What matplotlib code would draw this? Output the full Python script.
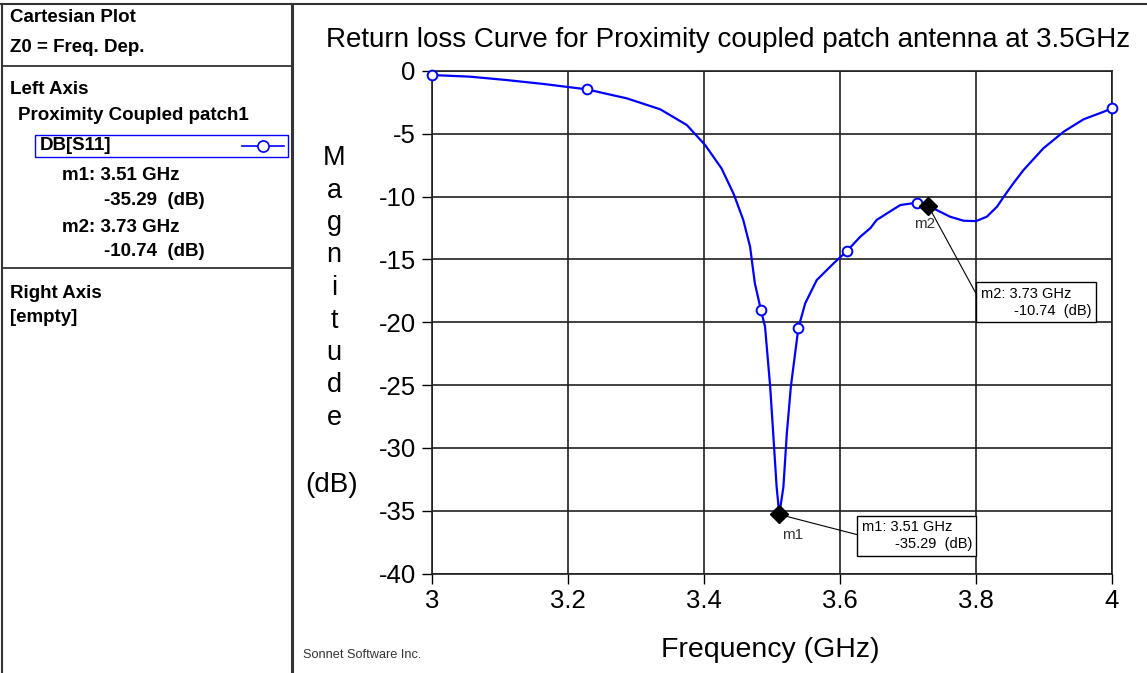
import matplotlib
matplotlib.use('Agg')
import matplotlib.pyplot as plt
from matplotlib.lines import Line2D
from matplotlib.patches import Rectangle
import numpy as np

plt.rcParams['font.family'] = ['Liberation Sans', 'DejaVu Sans']
plt.rcParams['axes.unicode_minus'] = False

# ---- data ----
freq = [3.000, 3.056, 3.110, 3.164, 3.228, 3.287, 3.336, 3.375, 3.402, 3.426,
        3.444, 3.458, 3.468, 3.475, 3.484, 3.490, 3.4975, 3.502, 3.507, 3.511,
        3.517, 3.522, 3.528, 3.539, 3.549, 3.566, 3.591, 3.610, 3.630, 3.645,
        3.654, 3.679, 3.689, 3.713, 3.730, 3.762, 3.782, 3.800, 3.816, 3.831,
        3.841, 3.855, 3.870, 3.899, 3.929, 3.958, 3.988, 4.000]
s11_db = [-0.32, -0.45, -0.72, -1.03, -1.46, -2.18, -3.05, -4.30, -5.90, -7.75,
          -9.80, -11.86, -13.99, -16.9, -19.03, -20.36, -25.1, -28.85, -33.1, -35.29,
          -33.1, -28.85, -25.1, -20.45, -18.5, -16.64, -15.3, -14.35, -13.19, -12.5,
          -11.86, -11.0, -10.67, -10.48, -10.74, -11.6, -11.92, -11.95, -11.6, -10.8,
          -10.0, -8.94, -7.88, -6.16, -4.83, -3.85, -3.24, -2.97]

# open circle symbols on the trace
sym_freq = [3.000, 3.228, 3.484, 3.539, 3.610, 3.713, 4.000]
sym_db = [-0.32, -1.46, -19.03, -20.45, -14.35, -10.48, -2.97]

# markers
mk_names = ['m1', 'm2']
mk_freq = [3.51, 3.73]
mk_db = [-35.29, -10.74]

xticks = [3, 3.2, 3.4, 3.6, 3.8, 4]
xticklabels = ['3', '3.2', '3.4', '3.6', '3.8', '4']
yticks = np.arange(-40, 1, 5)

W, H = 1147, 673
fig = plt.figure(figsize=(W / 100, H / 100), dpi=100)


def fx(x):
    return x / W


def fy(y):
    return 1 - y / H


ax = fig.add_axes([fx(431.7), fy(573.5), 680.3 / W, 502.5 / H])
ax.plot(freq, s11_db, color='#0000ff', lw=1.6, zorder=3)
ax.plot(sym_freq, sym_db, ls='none', marker='o', ms=7, mfc='white', mec='#0000ff',
        mew=1.4, zorder=4, clip_on=False)
ax.set_xlim(3, 4)
ax.set_ylim(-40, 0)
ax.set_xticks(xticks)
ax.set_xticklabels(xticklabels)
ax.set_yticks(yticks)
ax.grid(True, color='#202020', lw=1.2)
ax.set_axisbelow(True)
for sp in ax.spines.values():
    sp.set_color('#202020')
    sp.set_linewidth(1.2)
ax.tick_params(direction='out', length=7, width=1, labelsize=18.5, pad=4.5)

# marker annotations
box_pos = {'m1': (3.632, -37.0), 'm2': (3.807, -18.4)}
lab_pos = {'m1': (3.531, -36.9), 'm2': (3.725, -12.2)}
for name, f, d in zip(mk_names, mk_freq, mk_db):
    ax.plot(f, d, marker='D', color='k', ms=9, zorder=5)
    ax.text(*lab_pos[name], name, ha='center', va='center', fontsize=11, color='#333333')
    ax.annotate('%s: %.2f GHz\n        %.2f  (dB)' % (name, f, d), xy=(f, d),
                xytext=box_pos[name], ha='left', va='center', fontsize=10.5,
                linespacing=1.3,
                bbox=dict(boxstyle='square,pad=0.3', fc='white', ec='k', lw=1),
                arrowprops=dict(arrowstyle='-', color='k', lw=0.8, relpos=(0, 0.5),
                                shrinkA=0, shrinkB=0), zorder=6)

# title and axis labels
fig.text(fx(728), fy(40), 'Return loss Curve for Proximity coupled patch antenna at 3.5GHz',
         ha='center', va='center', fontsize=20)
fig.text(fx(770), fy(650), 'Frequency (GHz)', ha='center', va='center', fontsize=20.5)
for i, ch in enumerate('Magnitude'):
    fig.text(fx(334), fy(158 + i * 32.5), ch, ha='center', va='center', fontsize=19.5)
fig.text(fx(332), fy(485), '(dB)', ha='center', va='center', fontsize=20)
fig.text(fx(303), fy(655), 'Sonnet Software Inc.', ha='left', va='center', fontsize=9.2,
         color='#333333')

# left info panel frame
frame_kw = dict(color='#333333', transform=fig.transFigure)
fig.add_artist(Line2D([0, 1], [fy(4), fy(4)], lw=1.5, **frame_kw))
fig.add_artist(Line2D([fx(2), fx(2)], [fy(4), 0], lw=1.5, **frame_kw))
fig.add_artist(Line2D([fx(292), fx(292)], [fy(4), 0], lw=2.2, **frame_kw))
for yy in [66, 268]:
    fig.add_artist(Line2D([fx(2), fx(292)], [fy(yy), fy(yy)], lw=1.3, **frame_kw))

panel_lines = [
    (10, 17, 'Cartesian Plot'),
    (10, 47, 'Z0 = Freq. Dep.'),
    (10, 90, 'Left Axis'),
    (18, 116, 'Proximity Coupled patch1'),
    (40, 146, 'DB[S11]'),
    (62, 175, 'm1: 3.51 GHz'),
    (104, 200, '-35.29  (dB)'),
    (62, 227, 'm2: 3.73 GHz'),
    (104, 252, '-10.74  (dB)'),
    (10, 293, 'Right Axis'),
    (10, 318, '[empty]'),
]
for x, y, s in panel_lines:
    fig.text(fx(x), fy(y), s, ha='left', va='center', fontsize=13.5, fontweight='bold')

fig.add_artist(Rectangle((fx(35), fy(157)), 253 / W, 22 / H, fill=False, ec='#0000ff',
                         lw=1, transform=fig.transFigure))
fig.add_artist(Line2D([fx(242), fx(284)], [fy(146), fy(146)], color='#0000ff', lw=1.2,
                      transform=fig.transFigure))
fig.add_artist(Line2D([fx(263)], [fy(146)], ls='none', marker='o', ms=8, mfc='white',
                      mec='#0000ff', mew=1.2, transform=fig.transFigure))

fig.savefig('out.png', dpi=100)
